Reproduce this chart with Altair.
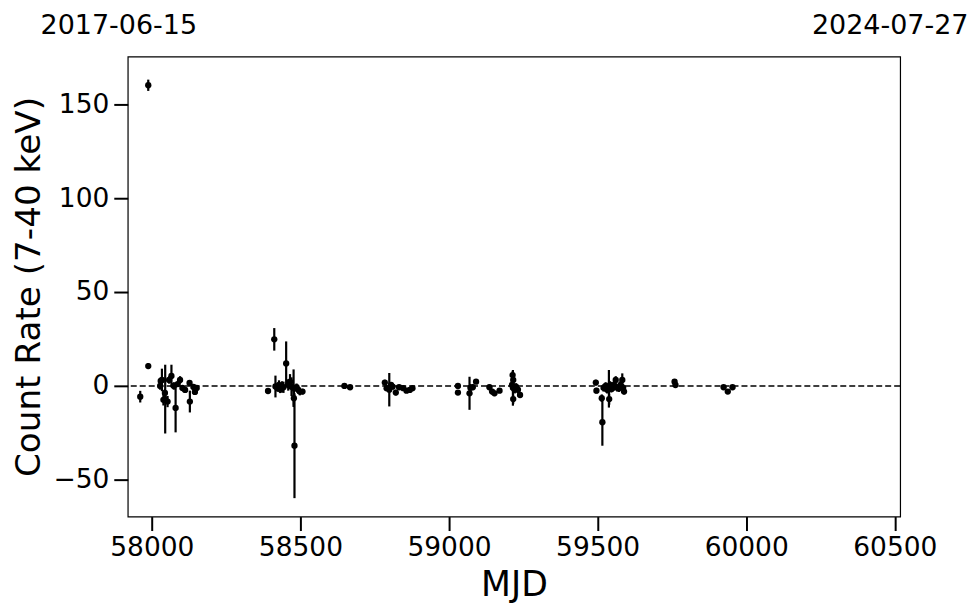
import altair as alt
import pandas as pd

# Observations (MJD, count rate 7-40 keV, 1-sigma error)
mjd = [57961, 57988, 57988, 58028, 58030, 58034, 58039, 58044, 58045, 58053,
       58058, 58066, 58074, 58080, 58087, 58095, 58103, 58112, 58127, 58128,
       58140, 58145, 58151,
       58391, 58412, 58416, 58423, 58428, 58432, 58438, 58443, 58452, 58459,
       58465, 58470, 58477, 58478, 58480, 58487, 58492, 58498, 58507,
       58648, 58667,
       58784, 58790, 58799, 58805, 58810, 58821, 58832, 58846, 58857, 58868, 58877,
       59030, 59030, 59069, 59072, 59080, 59091, 59136, 59145, 59153, 59170,
       59212, 59214, 59216, 59216, 59215, 59221, 59226, 59232, 59239,
       59494, 59496, 59514, 59516, 59520, 59527, 59532, 59538, 59539, 59542,
       59546, 59550, 59555, 59561, 59566, 59572, 59577, 59583, 59586, 59589,
       59759, 59762,
       59924, 59938, 59954]
rate = [-5.7, 160.0, 10.6, 0.0, 2.7, 3.2, -7.4, -3.7, -7.0, -8.3,
        3.2, 5.3, 0.0, -11.7, 1.0, 3.2, -1.1, -2.1, 1.6, -8.3,
        -0.5, -3.2, -1.1,
        -2.7, 24.8, -0.3, -1.1, 0.5, -1.8, -0.5, -0.7, 12.0, 0.5,
        2.3, -0.4, -1.2, -6.5, -31.8, -0.7, -2.0, -3.0, -3.0,
        0.0, -0.7,
        1.8, -1.2, -2.0, 0.5, -0.4, -3.5, -0.7, -1.2, -2.5, -2.1, -1.2,
        0.0, -3.5, -3.9, -1.0, -0.7, 2.3, -0.7, -3.0, -3.9, -2.5,
        0.5, 5.8, 3.2, -7.0, -1.0, -2.0, -0.5, -2.0, -4.8,
        1.8, -2.5, -6.5, -19.3, -1.0, 0.0, -2.0, -1.5, -7.0, 0.5,
        -1.5, -1.2, 0.5, 3.2, -1.0, -1.2, 0.5, 3.2, -1.0, -3.0,
        2.3, 0.5,
        -0.7, -3.0, -0.7]
err = [3.1, 3.0, 1.6, 2.0, 1.5, 6.0, 3.0, 2.0, 18.3, 3.0,
       2.0, 6.0, 2.0, 13.0, 1.5, 2.0, 1.5, 1.5, 1.5, 5.8,
       1.5, 1.5, 1.5,
       1.0, 6.0, 5.8, 2.0, 2.5, 2.0, 3.0, 3.0, 11.7, 3.0,
       4.0, 5.0, 10.0, 4.0, 27.9, 2.0, 2.0, 2.0, 1.5,
       1.0, 0.8,
       1.5, 1.5, 8.9, 1.5, 1.5, 1.5, 1.2, 1.2, 1.2, 1.2, 1.2,
       1.0, 1.0, 8.8, 2.0, 1.5, 1.0, 1.5, 1.5, 1.5, 1.0,
       2.0, 2.0, 2.0, 2.5, 9.5, 2.0, 2.0, 2.0, 1.5,
       1.5, 1.5, 2.0, 12.5, 2.0, 2.0, 2.0, 10.0, 3.0, 2.0,
       2.0, 2.0, 2.0, 2.0, 2.0, 2.0, 2.0, 3.5, 2.0, 1.5,
       1.0, 1.0,
       0.8, 0.8, 0.8]

date_labels = ["2017-06-15", "2024-07-27"]
date_mjd = [57919, 60518]

x_domain = [57919, 60518]
y_domain = [-69.5, 175.3]
x_ticks = [58000, 58500, 59000, 59500, 60000, 60500]
y_ticks = [-50, 0, 50, 100, 150]

df = pd.DataFrame({"mjd": mjd, "rate": rate, "err": err})
df["lo"] = df["rate"] - df["err"]
df["hi"] = df["rate"] + df["err"]
dates = pd.DataFrame({"mjd": date_mjd, "label": date_labels})

FONT = "DejaVu Sans"

xscale = alt.Scale(domain=x_domain, nice=False, zero=False)
yscale = alt.Scale(domain=y_domain, nice=False, zero=False)

xaxis = alt.Axis(values=x_ticks, format="d", title="MJD", grid=False, domain=False,
                 tickSize=14, tickWidth=2, tickColor="black",
                 labelFontSize=26.5, labelFont=FONT, labelColor="black", labelPadding=4,
                 titleFontSize=34.7, titleFont=FONT, titleFontWeight="normal",
                 titleColor="black", titlePadding=8)
yaxis = alt.Axis(values=y_ticks, format="d", title="Count Rate (7-40 keV)", grid=False,
                 domain=False, tickSize=14, tickWidth=2, tickColor="black",
                 labelFontSize=26.5, labelFont=FONT, labelColor="black", labelPadding=5,
                 titleFontSize=34.3, titleFont=FONT, titleFontWeight="normal",
                 titleColor="black", titlePadding=7)

base = alt.Chart(df)

zero_line = alt.Chart(pd.DataFrame({"y": [0]})).mark_rule(
    color="black", strokeWidth=1.5, strokeDash=[6, 3]
).encode(y=alt.Y("y:Q", scale=yscale, axis=yaxis))

bars = base.mark_rule(color="black", strokeWidth=2.2).encode(
    x=alt.X("mjd:Q", scale=xscale, axis=xaxis),
    y=alt.Y("lo:Q", scale=yscale, axis=yaxis),
    y2="hi:Q",
)

points = base.mark_circle(color="black", opacity=1, size=40).encode(
    x=alt.X("mjd:Q", scale=xscale, axis=xaxis),
    y=alt.Y("rate:Q", scale=yscale, axis=yaxis),
)

top_left = alt.Chart(dates.iloc[[0]]).mark_text(
    font=FONT, fontSize=27, color="black", baseline="alphabetic", align="center", dx=-9
).encode(x=alt.X("mjd:Q", scale=xscale, axis=xaxis), y=alt.value(-23), text="label:N")
top_right = alt.Chart(dates.iloc[[1]]).mark_text(
    font=FONT, fontSize=27, color="black", baseline="alphabetic", align="center", dx=-10
).encode(x=alt.X("mjd:Q", scale=xscale, axis=xaxis), y=alt.value(-23), text="label:N")

chart = alt.layer(zero_line, bars, points, top_left, top_right).properties(
    width=774, height=461,
    autosize=alt.AutoSizeParams(type="none"),
    padding={"left": 120, "top": 48, "right": 72, "bottom": 88},
    background="white",
).configure_view(stroke="black", strokeWidth=1.2)

chart.save("out.html", embed_options={"renderer": "svg", "actions": False})
